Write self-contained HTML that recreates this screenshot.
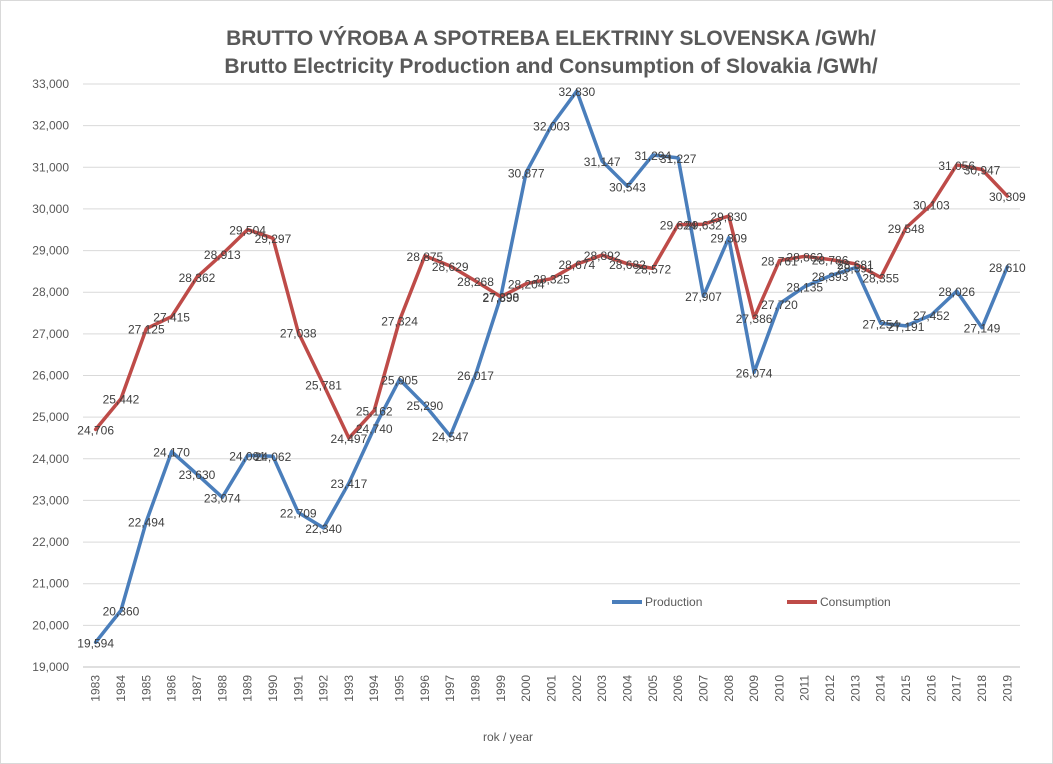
<!DOCTYPE html>
<html><head><meta charset="utf-8"><style>
body{margin:0;background:#fff}
svg{display:block;font-family:"Liberation Sans",sans-serif}
</style></head><body>
<svg id="c" width="1053" height="764" viewBox="0 0 1053 764">
<rect x="0.5" y="0.5" width="1052" height="763" fill="#fff" stroke="#d9d9d9"/>
<text x="551" y="45" text-anchor="middle" font-size="21" font-weight="bold" fill="#595959">BRUTTO VÝROBA A SPOTREBA ELEKTRINY SLOVENSKA /GWh/</text>
<text x="551" y="73" text-anchor="middle" font-size="21" font-weight="bold" fill="#595959">Brutto Electricity Production and Consumption of Slovakia /GWh/</text>
<g id="grid"></g><g id="xl"></g><g id="lines"></g><g id="labels"></g>
<text x="508" y="741" text-anchor="middle" font-size="12" fill="#595959">rok / year</text>
<g>
<line x1="612" y1="602" x2="642" y2="602" stroke="#4a7ebb" stroke-width="4"/>
<text x="645" y="606" font-size="12" fill="#595959">Production</text>
<line x1="787" y1="602" x2="817" y2="602" stroke="#be4b48" stroke-width="4"/>
<text x="820" y="606" font-size="12" fill="#595959">Consumption</text>
</g>
</svg>
<script>
const years=[1983,1984,1985,1986,1987,1988,1989,1990,1991,1992,1993,1994,1995,1996,1997,1998,1999,2000,2001,2002,2003,2004,2005,2006,2007,2008,2009,2010,2011,2012,2013,2014,2015,2016,2017,2018,2019];
const production=[19594,20360,22494,24170,23630,23074,24081,24062,22709,22340,23417,24740,25905,25290,24547,26017,27898,30877,32003,32830,31147,30543,31294,31227,27907,29309,26074,27720,28135,28393,28591,27254,27191,27452,28026,27149,28610];
const consumption=[24706,25442,27125,27415,28362,28913,29504,29297,27038,25781,24497,25162,27324,28875,28629,28268,27890,28204,28325,28674,28892,28682,28572,29624,29632,29830,27386,28761,28862,28786,28681,28355,29548,30103,31056,30947,30309];
const yTicks=[19000,20000,21000,22000,23000,24000,25000,26000,27000,28000,29000,30000,31000,32000,33000];
const NS='http://www.w3.org/2000/svg';
const L=83,R=1020,T=84,B=667,yMin=19000,yMax=33000;
const step=(R-L)/years.length;
const xs=i=>L+step*(i+0.5);
const ys=v=>B-(v-yMin)/(yMax-yMin)*(B-T);
function mk(tag,attrs,parent){const e=document.createElementNS(NS,tag);for(const k in attrs)e.setAttribute(k,attrs[k]);parent.appendChild(e);return e;}
const grid=document.getElementById('grid');
yTicks.forEach(t=>{
 const l=mk('line',{x1:L,x2:R,y1:ys(t),y2:ys(t),stroke:t===yMin?'#bfbfbf':'#d9d9d9'},grid);
 
 
 const tx=mk('text',{x:L-14,y:ys(t)+4,'text-anchor':'end','font-size':12,fill:'#595959'},grid);
 tx.textContent=t.toLocaleString('en-US');
 
 
});
const xl=document.getElementById('xl');
years.forEach((y,i)=>{
 const x=xs(i);
 const tx=mk('text',{x:0,y:0,transform:`translate(${x+4},${B+8}) rotate(-90)`,'text-anchor':'end','font-size':12,fill:'#595959'},xl);
 tx.textContent=y;
 
 
});
const lines=document.getElementById('lines'),labels=document.getElementById('labels');
[[production,'#4a7ebb','production'],[consumption,'#be4b48','consumption']].forEach(([d,c,n])=>{
 const p=mk('polyline',{points:d.map((v,i)=>xs(i)+','+ys(v)).join(' '),fill:'none',stroke:c,'stroke-width':3.5,'stroke-linejoin':'round','stroke-linecap':'round'},lines);
 
 
 d.forEach((v,i)=>{
  const t=mk('text',{x:xs(i),y:ys(v)+5,'text-anchor':'middle','font-size':12,fill:'#404040'},labels);
  t.textContent=v.toLocaleString('en-US');
  
  
 });
});
</script>
</body></html>
